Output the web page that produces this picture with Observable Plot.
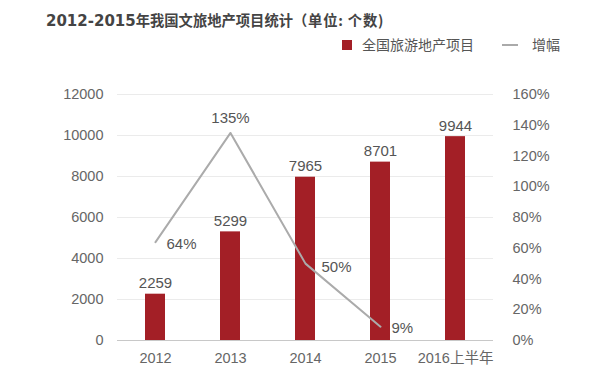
<!DOCTYPE html>
<html>
<head>
<meta charset="utf-8">
<script src="https://cdn.jsdelivr.net/npm/d3@7"></script>
<script src="https://cdn.jsdelivr.net/npm/@observablehq/plot@0.6"></script>
<style>
  body { margin: 0; background: #fff; font-family: "Liberation Sans", "Noto Sans CJK SC", sans-serif; }
  #wrap { position: relative; width: 591px; height: 381px; overflow: hidden; }
  #head { position: relative; height: 60px; }
  #title { position: absolute; left: 46px; top: 10px; font-size: 14.3px; font-weight: bold; color: #444; white-space: nowrap; font-family: "Noto Sans CJK SC", sans-serif; line-height: 20px; }
  #title .num { font-family: "DejaVu Sans", sans-serif; font-size: 15px; }
  #title .unit { letter-spacing: 0.8px; }
  .leg { position: absolute; top: 34px; font-size: 14px; color: #555; white-space: nowrap; font-family: "Noto Sans CJK SC", sans-serif; line-height: 20px; }
  .sw { display: inline-block; vertical-align: middle; }
</style>
</head>
<body>
<div id="wrap">
  <div id="head">
    <div id="title"><span class="num">2012-2015</span>年我国文旅地产项目统计<span class="unit">（单位: 个数)</span></div>
    <div class="leg" style="left:342px"><span class="sw" style="width:10px;height:10px;background:#a31f26;margin-right:10px;position:relative;top:-1px"></span>全国旅游地产项目</div>
    <div class="leg" style="left:502px"><span class="sw" style="width:16px;height:2px;background:#aaa;margin-right:14px;position:relative;top:-1px"></span>增幅</div>
  </div>
  <div id="chart"></div>
</div>
<script>
const years = ["2012", "2013", "2014", "2015", "2016上半年"];
const projects = [2259, 5299, 7965, 8701, 9944];
const growthYears = ["2012", "2013", "2014", "2015"];
const growth = [0.64, 1.35, 0.50, 0.09];
const leftTicks = [0, 2000, 4000, 6000, 8000, 10000, 12000];
const rightTicks = [0, 0.2, 0.4, 0.6, 0.8, 1.0, 1.2, 1.4, 1.6];

const yMax = 12000, pMax = 1.6;
const k = yMax / pMax;

const bars = years.map((y, i) => ({year: y, value: projects[i]}));
const line = growthYears.map((y, i) => ({year: y, g: growth[i], v: growth[i] * k}));
const peak = d3.max(growth);

const chart = Plot.plot({
  width: 591,
  height: 321,
  marginLeft: 117,
  marginRight: 98,
  marginTop: 34,
  marginBottom: 41,
  style: {fontSize: "14.5px", fontFamily: "'Liberation Sans', 'Noto Sans CJK SC', sans-serif", color: "#666", background: "transparent"},
  x: {domain: years, paddingInner: 0.73, paddingOuter: 0.365, label: null},
  y: {domain: [0, yMax], label: null},
  marks: [
    Plot.ruleY(leftTicks.filter(d => d > 0), {stroke: "#ebebeb", strokeWidth: 1}),
    Plot.ruleY([0], {stroke: "#c8c8c8", strokeWidth: 1}),
    Plot.axisY({ticks: leftTicks, tickSize: 0, tickPadding: 14, label: null, tickFormat: d => String(d)}),
    Plot.axisY({anchor: "right", ticks: rightTicks.map(p => p * k), tickSize: 0, tickPadding: 19, label: null, textAnchor: "start", tickFormat: d => Math.round(d / k * 100) + "%"}),
    Plot.axisX({tickSize: 0, tickPadding: 12, label: null, fontFamily: "'Liberation Sans', 'Noto Sans CJK SC', sans-serif"}),
    Plot.barY(bars, {x: "year", y: "value", fill: "#a31f26"}),
    Plot.text(bars, {x: "year", y: "value", text: d => String(d.value), lineAnchor: "bottom", dy: -6, fontSize: 15, fill: "#555"}),
    Plot.line(line, {x: "year", y: "v", stroke: "#ababab", strokeWidth: 2}),
    Plot.text(line.filter(d => d.g === peak), {x: "year", y: "v", text: d => Math.round(d.g * 100) + "%", lineAnchor: "bottom", dy: -10, fontSize: 15, fill: "#555"}),
    Plot.text(line.filter(d => d.g !== peak && d.year !== "2014"), {x: "year", y: "v", text: d => Math.round(d.g * 100) + "%", textAnchor: "start", dx: 11, dy: 2, fontSize: 15, fill: "#555"}),
    Plot.text(line.filter(d => d.year === "2014"), {x: "year", y: "v", text: d => Math.round(d.g * 100) + "%", textAnchor: "start", dx: 16, dy: 4, fontSize: 15, fill: "#555"})
  ]
});
document.getElementById("chart").appendChild(chart);
</script>
</body>
</html>
